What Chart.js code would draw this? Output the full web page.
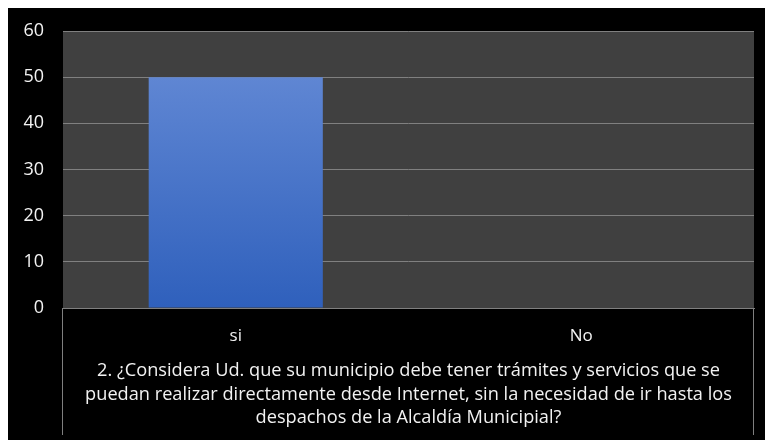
<!DOCTYPE html>
<html>
<head>
<meta charset="utf-8">
<script src="https://cdn.jsdelivr.net/npm/chart.js@4.4.0/dist/chart.umd.min.js"></script>
<style>
  html, body { margin: 0; padding: 0; background: #fff; }
  #wrap { position: absolute; left: 8px; top: 8px; width: 757px; height: 432px; background: #000; }
</style>
</head>
<body>
<div id="wrap"><canvas id="chart" width="757" height="432"></canvas></div>
<script>
const categories = ['si', 'No'];
const values = [50, 0];
const yTicks = [0, 10, 20, 30, 40, 50, 60];
const axisTitle = [
    '2. ¿Considera Ud. que su municipio debe tener trámites y servicios que se',
    'puedan realizar directamente desde Internet, sin la necesidad de ir hasta los',
    'despachos de la Alcaldía Municipial?'
];

const FONT = "'Open Sans', 'DejaVu Sans', sans-serif";

// plot background and the frame lines under the plot
const framePlugin = {
    id: 'frame',
    beforeDraw(chart) {
        const { ctx, chartArea: a } = chart;
        ctx.save();
        ctx.fillStyle = '#404040';
        ctx.fillRect(a.left, a.top, a.right - a.left, a.bottom - a.top);
        ctx.strokeStyle = '#7f7f7f';
        ctx.lineWidth = 1;
        ctx.beginPath();
        ctx.moveTo(a.left - 0.5, a.bottom);
        ctx.lineTo(a.left - 0.5, chart.height - 5);
        ctx.moveTo(a.right - 0.5, a.bottom);
        ctx.lineTo(a.right - 0.5, chart.height - 5);
        ctx.stroke();
        ctx.restore();
    }
};

function barGradient(context) {
    const chart = context.chart;
    const a = chart.chartArea;
    if (!a) return '#4a74c8';
    const y = chart.scales.y;
    const g = chart.ctx.createLinearGradient(0, y.getPixelForValue(values[0]), 0, a.bottom);
    g.addColorStop(0, '#5f86d3');
    g.addColorStop(1, '#2f60bc');
    return g;
}

new Chart(document.getElementById('chart'), {
    type: 'bar',
    data: {
        labels: categories,
        datasets: [{
            data: values,
            backgroundColor: barGradient,
            barPercentage: 0.504,
            categoryPercentage: 1
        }]
    },
    plugins: [framePlugin],
    options: {
        responsive: false,
        animation: false,
        layout: { padding: { top: 23, right: 11, left: 0, bottom: 0 } },
        plugins: { legend: { display: false }, tooltip: { enabled: false } },
        scales: {
            y: {
                min: 0,
                max: 60,
                afterBuildTicks(scale) { scale.ticks = yTicks.map(v => ({ value: v })); },
                afterFit(scale) {
                    scale.width = 55;
                    scale.paddingTop = 0;
                    scale.paddingBottom = 0;
                },
                grid: { color: '#808080', drawTicks: false },
                border: { display: false },
                ticks: { color: '#f2f2f2', padding: 19, font: { family: FONT, size: 18 } },
            },
            x: {
                afterFit(scale) { scale.height = 132; },
                grid: { display: false },
                border: { display: true, color: '#808080' },
                ticks: { color: '#f2f2f2', padding: 10, font: { family: FONT, size: 17 } },
                title: {
                    display: true,
                    text: axisTitle,
                    color: '#f2f2f2',
                    font: { family: FONT, size: 18.2, lineHeight: 1.3 },
                    padding: { top: 4, bottom: 10 }
                }
            }
        }
    }
});
</script>
</body>
</html>
